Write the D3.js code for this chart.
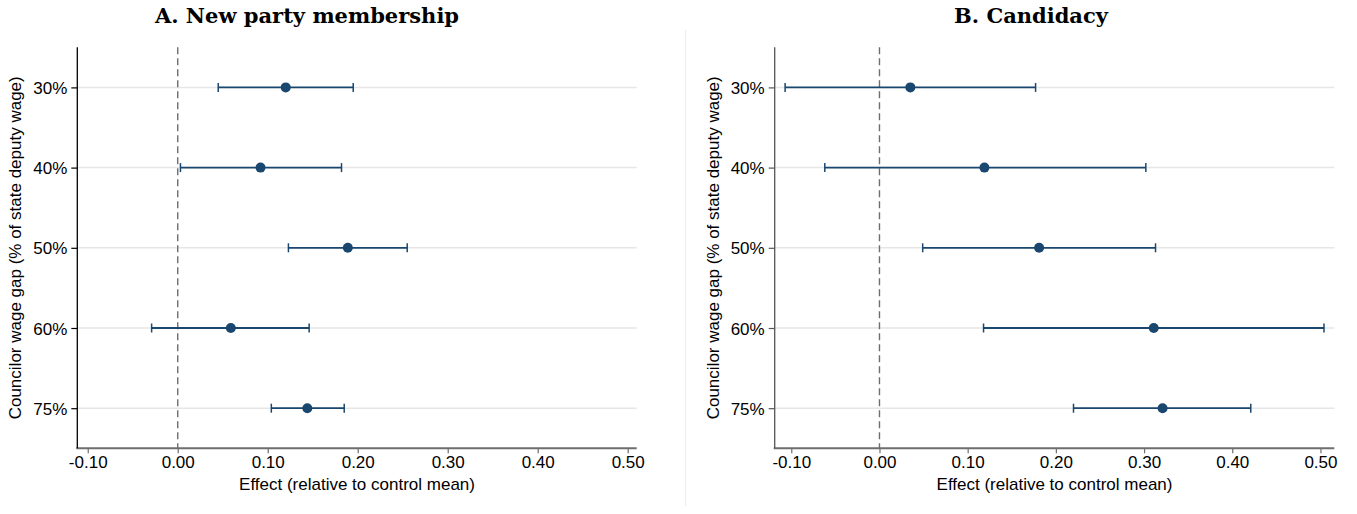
<!DOCTYPE html>
<html>
<head>
<meta charset="utf-8">
<script src="https://cdn.jsdelivr.net/npm/d3@7"></script>
<style>
  body { margin: 0; background: #fff; }
  svg { display: block; }
</style>
</head>
<body>
<svg id="chart" width="1357" height="514"></svg>
<script>
// wage gap categories (y axis)
const categories = ['30%', '40%', '50%', '60%', '75%'];
const xTicks = [-0.10, 0.00, 0.10, 0.20, 0.30, 0.40, 0.50];

// Panel A: new party membership
const membershipEst = [0.120, 0.092, 0.189, 0.059, 0.144];
const membershipLo  = [0.045, 0.003, 0.123, -0.029, 0.104];
const membershipHi  = [0.195, 0.182, 0.255, 0.146, 0.185];

// Panel B: candidacy
const candidacyEst = [0.035, 0.119, 0.181, 0.311, 0.321];
const candidacyLo  = [-0.107, -0.062, 0.049, 0.118, 0.220];
const candidacyHi  = [0.177, 0.302, 0.313, 0.504, 0.421];

const navy = '#1a476f';
const sans = '"Liberation Sans", Arial, sans-serif';
const svg = d3.select('#chart');

// stata-style labels use a plain hyphen for negatives
const fmt = d => d3.format('.2f')(d).replace('\u2212', '-');

// faint divider between the two graphs
svg.append('line')
    .attr('x1', 685.5).attr('x2', 685.5)
    .attr('y1', 30).attr('y2', 506)
    .attr('stroke', '#ececec').attr('stroke-width', 1);

const drawPanel = (opts) => {
    const { title, titleX, left, right, domain, est, lo, hi, yAxisColor } = opts;
    const top = 47.3, bottom = 448.3;

    const x = d3.scaleLinear().domain(domain).range([left, right]);
    const y = d3.scalePoint().domain(categories).range([top, bottom]).padding(0.5);

    const g = svg.append('g');

    // title
    g.append('text')
        .attr('x', titleX).attr('y', 23)
        .attr('text-anchor', 'middle')
        .style('font-family', '"DejaVu Serif", "Liberation Serif", serif')
        .style('font-weight', 'bold')
        .style('font-size', '21px')
        .text(title);

    // horizontal gridlines
    g.selectAll('.grid')
        .data(categories)
        .join('line')
        .attr('x1', left).attr('x2', right)
        .attr('y1', d => y(d)).attr('y2', d => y(d))
        .attr('stroke', '#e6e6e6').attr('stroke-width', 1.5);

    // zero line
    g.append('line')
        .attr('x1', x(0)).attr('x2', x(0))
        .attr('y1', top).attr('y2', bottom)
        .attr('stroke', '#6e6e6e').attr('stroke-width', 1.4)
        .attr('stroke-dasharray', '7,4');

    // x axis
    const xAxis = d3.axisBottom(x)
        .tickValues(xTicks)
        .tickFormat(fmt)
        .tickSize(5)
        .tickPadding(3);
    const gx = g.append('g')
        .attr('transform', `translate(0,${bottom})`)
        .call(xAxis);
    gx.select('.domain').remove();
    gx.append('line')
        .attr('x1', left - 1).attr('x2', right)
        .attr('stroke', '#6e6e6e').attr('stroke-width', 2);
    gx.selectAll('.tick line').attr('stroke', '#6e6e6e').attr('stroke-width', 1.2);
    gx.selectAll('.tick text')
        .attr('fill', '#000')
        .style('font-family', sans)
        .style('font-size', '17px');

    // y axis
    const yAxis = d3.axisLeft(y).tickSize(6).tickPadding(4);
    const gy = g.append('g')
        .attr('transform', `translate(${left},0)`)
        .call(yAxis);
    gy.select('.domain').remove();
    gy.append('line')
        .attr('y1', top).attr('y2', bottom)
        .attr('stroke', yAxisColor).attr('stroke-width', 1.3);
    gy.selectAll('.tick line').attr('stroke', yAxisColor).attr('stroke-width', 1.2);
    gy.selectAll('.tick text')
        .attr('fill', '#000')
        .attr('dy', '0.36em')
        .style('font-family', sans)
        .style('font-size', '17px');

    // axis titles
    g.append('text')
        .attr('x', (left + right) / 2).attr('y', 490)
        .attr('text-anchor', 'middle')
        .style('font-family', sans)
        .style('font-size', '17px')
        .text('Effect (relative to control mean)');

    g.append('text')
        .attr('transform', `translate(${left - 56},${(top + bottom) / 2}) rotate(-90)`)
        .attr('text-anchor', 'middle')
        .style('font-family', sans)
        .style('font-size', '17px')
        .text('Councilor wage gap (% of state deputy wage)');

    // confidence intervals
    const rows = categories.map((c, i) => ({ cat: c, est: est[i], lo: lo[i], hi: hi[i] }));

    g.selectAll('.ci')
        .data(rows)
        .join('line')
        .attr('x1', d => x(d.lo)).attr('x2', d => x(d.hi))
        .attr('y1', d => y(d.cat)).attr('y2', d => y(d.cat))
        .attr('stroke', navy).attr('stroke-width', 1.8);

    const capH = 4.5;
    ['lo', 'hi'].forEach(k => {
        g.selectAll('.cap-' + k)
            .data(rows)
            .join('line')
            .attr('x1', d => x(d[k])).attr('x2', d => x(d[k]))
            .attr('y1', d => y(d.cat) - capH).attr('y2', d => y(d.cat) + capH)
            .attr('stroke', navy).attr('stroke-width', 1.5);
    });

    g.selectAll('.pt')
        .data(rows)
        .join('circle')
        .attr('cx', d => x(d.est)).attr('cy', d => y(d.cat))
        .attr('r', 5)
        .attr('fill', navy);
};

drawPanel({
    title: 'A. New party membership', titleX: 307,
    left: 77.3, right: 636.7, domain: [-0.1116, 0.510],
    est: membershipEst, lo: membershipLo, hi: membershipHi,
    yAxisColor: '#000'
});

drawPanel({
    title: 'B. Candidacy', titleX: 1031,
    left: 774.7, right: 1334.3, domain: [-0.1188, 0.5157],
    est: candidacyEst, lo: candidacyLo, hi: candidacyHi,
    yAxisColor: '#555'
});
</script>
</body>
</html>
